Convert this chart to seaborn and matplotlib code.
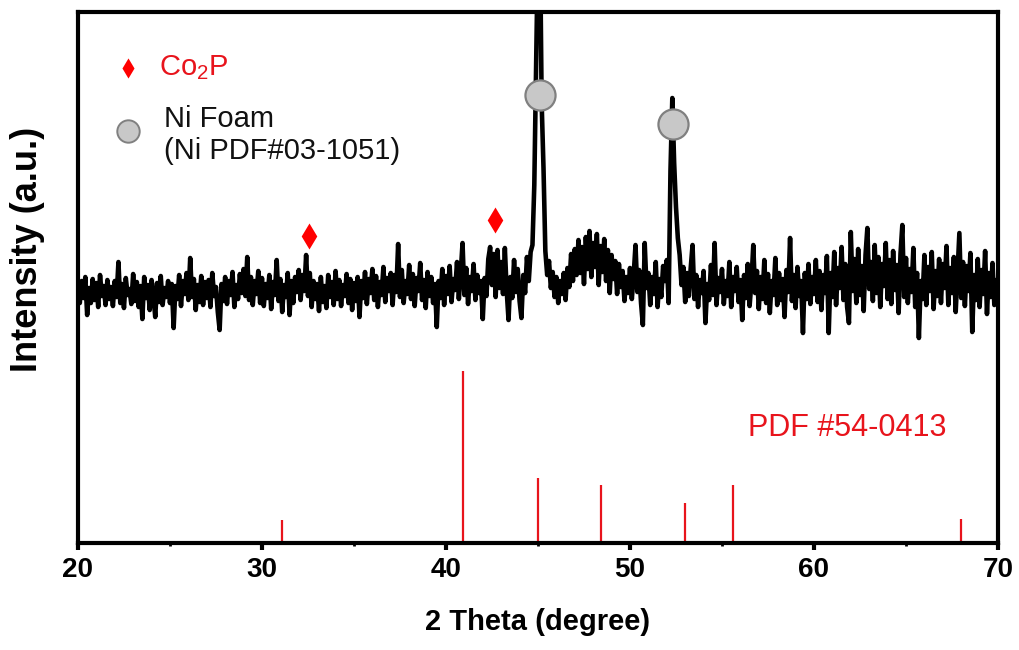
import numpy as np
import matplotlib
matplotlib.use("Agg")
import matplotlib.pyplot as plt
import seaborn as sns

# ---------------- data ----------------
two_theta = np.round(np.arange(20.0, 70.05, 0.1), 1)

int_20_25 = [258, 240, 262, 245, 266, 228, 255, 240, 264, 243,
             260, 236, 268, 247, 257, 238, 263, 244, 256, 237,
             262, 246, 281, 240, 259, 235, 265, 248, 254, 239,
             269, 242, 261, 236, 257, 224, 266, 245, 258, 233,
             263, 248, 226, 260, 241, 267, 238, 255, 246, 262]
int_25_30 = [240, 259, 215, 257, 244, 268, 237, 262, 249, 270,
             243, 285, 246, 264, 233, 258, 241, 267, 238, 261,
             245, 263, 236, 270, 247, 256, 231, 213, 259, 242,
             266, 239, 262, 248, 271, 236, 258, 244, 269, 250,
             274, 247, 286, 243, 266, 238, 262, 249, 272, 240]
int_30_35 = [265, 237, 259, 245, 268, 234, 261, 248, 283, 242,
             264, 231, 258, 246, 270, 228, 262, 240, 266, 251,
             273, 243, 268, 252, 288, 247, 270, 236, 262, 244,
             259, 232, 266, 241, 257, 235, 268, 246, 261, 238,
             272, 244, 263, 237, 258, 247, 269, 240, 264, 233]
int_35_40 = [260, 242, 266, 226, 262, 245, 271, 239, 264, 250,
             274, 243, 267, 236, 261, 248, 276, 241, 265, 252,
             270, 238, 268, 251, 299, 246, 273, 240, 262, 249,
             278, 244, 269, 237, 265, 252, 280, 243, 263, 235,
             271, 247, 266, 240, 259, 216, 262, 245, 274, 238]
int_40_45 = [267, 249, 277, 241, 264, 253, 281, 244, 270, 300,
             248, 275, 239, 266, 252, 279, 243, 268, 250, 262,
             224, 265, 247, 284, 296, 258, 289, 246, 293, 255,
             281, 249, 295, 252, 223, 266, 245, 283, 251, 274,
             242, 225, 268, 250, 286, 262, 291, 298, 358, 480]
int_45_50 = [600, 620, 440, 375, 292, 268, 282, 255, 271, 246,
             266, 240, 262, 249, 270, 243, 275, 256, 289, 262,
             294, 268, 303, 270, 296, 259, 306, 274, 312, 266,
             300, 276, 309, 258, 297, 271, 304, 262, 293, 250,
             288, 264, 282, 249, 279, 256, 272, 242, 266, 250]
int_50_55 = [275, 244, 268, 298, 251, 273, 240, 218, 300, 255,
             270, 238, 266, 249, 281, 236, 264, 246, 277, 262,
             283, 240, 372, 445, 380, 336, 305, 288, 258, 276,
             241, 270, 247, 275, 298, 244, 268, 236, 263, 250,
             272, 220, 259, 243, 278, 248, 300, 238, 265, 251]
int_55_60 = [274, 239, 262, 247, 281, 236, 266, 252, 276, 241,
             263, 223, 268, 245, 279, 237, 261, 298, 250, 272,
             234, 266, 244, 283, 240, 269, 230, 262, 248, 285,
             238, 270, 243, 264, 226, 273, 251, 305, 242, 268,
             235, 276, 247, 262, 210, 270, 244, 279, 239, 266]
int_60_65 = [249, 283, 241, 272, 233, 268, 250, 287, 210, 270,
             246, 291, 238, 275, 255, 296, 243, 279, 236, 220,
             311, 252, 284, 240, 294, 248, 277, 232, 288, 315,
             254, 281, 242, 298, 250, 286, 236, 279, 257, 300,
             244, 283, 239, 292, 253, 278, 230, 289, 318, 246]
int_65_70 = [285, 240, 274, 251, 295, 236, 270, 205, 262, 244,
             288, 238, 276, 252, 291, 234, 272, 247, 284, 240,
             279, 255, 297, 238, 275, 250, 286, 231, 270, 310,
             245, 281, 237, 277, 252, 290, 211, 268, 243, 284,
             236, 273, 249, 292, 229, 270, 246, 280, 238, 263, 244]

intensity = np.array(int_20_25 + int_25_30 + int_30_35 + int_35_40 + int_40_45
                     + int_45_50 + int_50_55 + int_55_60 + int_60_65 + int_65_70)

# reference pattern PDF #54-0413 (Co2P)
pdf_pos = [31.1, 40.9, 45.0, 48.4, 53.0, 55.6, 68.0]
pdf_int = [23, 172, 65, 58, 40, 58, 24]

# phase markers on the pattern
co2p_x = [32.55, 42.66]
co2p_y = [307, 323]
ni_x = [45.1, 52.35]
ni_y = [448, 419]

x_ticks = [20, 30, 40, 50, 60, 70]
legend_co2p = "Co$_2$P"
legend_ni = "Ni Foam\n(Ni PDF#03-1051)"
pdf_label = "PDF #54-0413"
x_label = "2 Theta (degree)"
y_label = "Intensity (a.u.)"

# ---------------- style ----------------
sns.set_theme(style="white")
plt.rcParams["font.family"] = ["Liberation Sans", "DejaVu Sans"]
plt.rcParams["mathtext.fontset"] = "custom"
plt.rcParams["mathtext.rm"] = "Liberation Sans"
plt.rcParams["text.color"] = "black"
plt.rcParams["axes.labelcolor"] = "black"
plt.rcParams["xtick.color"] = "black"

RED = "#e8141c"

fig = plt.figure(figsize=(10.19, 6.5), dpi=100)
ax = fig.add_axes([0.0765, 0.1646, 0.9029, 0.8169])

sns.lineplot(x=two_theta, y=intensity, color="black", linewidth=3.3, ax=ax,
             estimator=None, sort=False)

ax.vlines(pdf_pos, 0, pdf_int, color=RED, linewidth=1.6)

sns.scatterplot(x=co2p_x, y=co2p_y, marker="d", s=175, color="#ff0000",
                edgecolor="#ff0000", linewidth=0, ax=ax, zorder=5)
sns.scatterplot(x=ni_x, y=ni_y, marker="o", s=470, color="#c8c8c8",
                edgecolor="#808080", linewidth=1.6, ax=ax, zorder=5)

# legend-like annotations
ax.scatter([22.72], [475], marker="d", s=105, color="#ff0000", linewidth=0, zorder=5)
ax.scatter([22.72], [412], marker="o", s=260, color="#c8c8c8",
           edgecolor="#808080", linewidth=1.4, zorder=5)
ax.text(24.4, 475, legend_co2p, color=RED, fontsize=21, va="center", ha="left")
ax.text(24.7, 408, legend_ni, color="#111111", fontsize=21, va="center", ha="left",
        linespacing=1.2)

ax.text(56.41, 115, pdf_label, color=RED, fontsize=22, va="center", ha="left")

ax.set_xlim(20, 70)
ax.set_ylim(0, 531)
ax.set_xticks(x_ticks)
ax.set_xticks([25, 35, 45, 55, 65], minor=True)
ax.set_yticks([])

for lbl in ax.get_xticklabels():
    lbl.set_fontweight("bold")
    lbl.set_fontsize(20)
    lbl.set_color("black")

ax.tick_params(axis="x", which="major", direction="out", length=5, width=3,
               color="black", pad=5, bottom=True)
ax.tick_params(axis="x", which="minor", direction="out", length=2.5, width=2,
               color="black", bottom=True)

for sp in ax.spines.values():
    sp.set_visible(True)
    sp.set_color("black")
    sp.set_linewidth(3)

ax.set_xlabel(x_label, fontsize=21, fontweight="bold", color="black", labelpad=18)
ax.set_ylabel(y_label, fontsize=26, fontweight="bold", color="black")
ax.yaxis.set_label_coords(-0.036, 0.552)

fig.savefig("out.png", dpi=100, facecolor="white")
